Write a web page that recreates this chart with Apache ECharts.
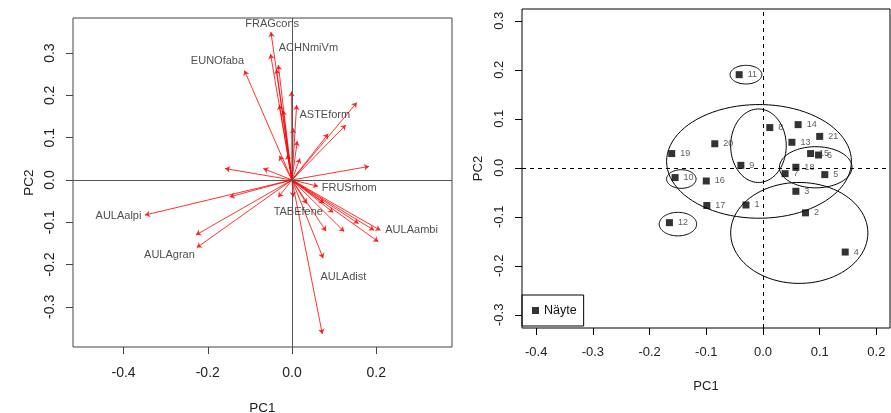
<!DOCTYPE html>
<html>
<head>
<meta charset="utf-8">
<script src="https://cdn.jsdelivr.net/npm/echarts@6/dist/echarts.min.js"></script>
<style>
  html, body { margin: 0; padding: 0; background: #fff; }
  #chart { width: 891px; height: 413px; }
</style>
</head>
<body>
<div id="chart"></div>
<script>
// left panel: loading arrows (PC1, PC2 of each species)
const loadX = [-0.050, -0.051, -0.0325, -0.037, -0.113, -0.001, 0.011, -0.030, -0.021, 0.003, 0.0126, -0.030, -0.011, 0.019,
  0.154, 0.128, 0.086, 0.183, -0.159, -0.068, 0.062, -0.349, -0.148, -0.0325, -0.228, -0.226, 0.035, 0.076, 0.098,
  0.081, 0.124, 0.158, 0.195, 0.210, 0.205, 0.074, 0.072, 0.003]
const loadY = [0.350, 0.298, 0.272, 0.262, 0.259, 0.209, 0.177, 0.178, 0.165, 0.122, 0.092, 0.057, 0.060, 0.051,
  0.183, 0.130, 0.109, 0.032, 0.027, 0.027, -0.015, -0.083, -0.040, -0.041, -0.130, -0.160, -0.056, -0.055, -0.077,
  -0.121, -0.122, -0.103, -0.119, -0.119, -0.146, -0.185, -0.364, -0.040]

// left panel: species labels
const speciesNames = ['FRAGcons', 'ACHNmiVm', 'EUNOfaba', 'ASTEform', 'FRUSrhom', 'TABEfene', 'AULAalpi', 'AULAgran', 'AULAambi', 'AULAdist']
const speciesX = [-0.047, 0.039, -0.177, 0.078, 0.136, 0.015, -0.412, -0.291, 0.284, 0.122]
const speciesY = [0.368, 0.311, 0.281, 0.154, -0.020, -0.076, -0.085, -0.177, -0.118, -0.230]

// right panel: sample scores
const sampleIds = ['1', '2', '3', '4', '5', '6', '7', '8', '9', '10', '11', '12', '13', '14', '15', '16', '17', '18', '19', '20', '21']
const sampleX = [-0.030, 0.075, 0.058, 0.145, 0.109, 0.098, 0.039, 0.012, -0.039, -0.155, -0.042, -0.165, 0.051, 0.062, 0.084, -0.100, -0.099, 0.058, -0.161, -0.085, 0.100]
const sampleY = [-0.076, -0.092, -0.048, -0.172, -0.014, 0.026, -0.012, 0.082, 0.005, -0.020, 0.190, -0.112, 0.052, 0.088, 0.029, -0.027, -0.077, 0.001, 0.029, 0.049, 0.064]

// right panel: group ellipses (centre and radii)
const ellCx = [-0.030, -0.007, -0.008, 0.093, -0.144, -0.150, 0.064]
const ellCy = [0.190, 0.013, 0.045, 0.001, -0.023, -0.115, -0.133]
const ellRx = [0.028, 0.163, 0.049, 0.064, 0.026, 0.033, 0.121]
const ellRy = [0.019, 0.116, 0.075, 0.042, 0.019, 0.024, 0.103]

const ticksLeftX = [-0.4, -0.2, 0.0, 0.2]
const ticksLeftY = [-0.3, -0.2, -0.1, 0.0, 0.1, 0.2, 0.3]
const ticksRightX = [-0.4, -0.3, -0.2, -0.1, 0.0, 0.1, 0.2]
const ticksRightY = [-0.3, -0.2, -0.1, 0.0, 0.1, 0.2, 0.3]

const chart = echarts.init(document.getElementById('chart'))
const font = 'Liberation Sans, Arial, sans-serif'
const fmt = v => Number(v).toFixed(1)

function valueAxis (gridIndex, min, max, ticks, isY, opt) {
  return {
    type: 'value',
    gridIndex: gridIndex,
    min: min,
    max: max,
    name: isY ? 'PC2' : 'PC1',
    nameLocation: 'middle',
    nameGap: opt.nameGap,
    nameRotate: isY ? 90 : 0,
    nameTextStyle: { fontSize: opt.nameSize, color: '#222', fontFamily: font },
    axisLine: { show: false, onZero: false },
    axisTick: { show: true, length: 7, customValues: ticks, lineStyle: { color: opt.tickColor } },
    axisLabel: {
      customValues: ticks,
      formatter: fmt,
      rotate: isY ? 90 : 0,
      margin: opt.margin,
      fontSize: opt.labelSize,
      color: '#222',
      fontFamily: font
    },
    splitLine: { show: false }
  }
}

const leftOpt = { nameGap: 54, nameSize: 13.5, labelSize: 14, margin: 19, tickColor: '#444' }
const leftOptY = { nameGap: 37, nameSize: 13.5, labelSize: 14, margin: 16, tickColor: '#444' }
const rightOpt = { nameGap: 52, nameSize: 13, labelSize: 13, margin: 18, tickColor: '#000' }
const rightOptY = { nameGap: 37, nameSize: 13, labelSize: 13, margin: 16, tickColor: '#000' }

const option = {
  animation: false,
  textStyle: { fontFamily: font },
  grid: [
    { left: 73, top: 18, width: 379, height: 329, outerBoundsMode: 'none', show: true, borderColor: '#444', borderWidth: 1, backgroundColor: 'transparent' },
    { left: 522, top: 9, width: 368, height: 319, outerBoundsMode: 'none', show: true, borderColor: '#000', borderWidth: 1, backgroundColor: 'transparent' }
  ],
  xAxis: [
    valueAxis(0, -0.52, 0.38, ticksLeftX, false, leftOpt),
    valueAxis(1, -0.425, 0.224, ticksRightX, false, rightOpt)
  ],
  yAxis: [
    valueAxis(0, -0.395, 0.383, ticksLeftY, true, leftOptY),
    valueAxis(1, -0.327, 0.324, ticksRightY, true, rightOptY)
  ],
  legend: {
    data: [{ name: 'Näyte', icon: 'rect' }],
    left: 522,
    top: 295,
    orient: 'vertical',
    itemWidth: 7,
    itemHeight: 7,
    padding: [9, 7, 9, 10],
    borderColor: '#000',
    borderWidth: 1,
    selectedMode: false,
    textStyle: { fontSize: 12.5, color: '#111', fontFamily: font }
  },
  series: [
    {
      type: 'lines',
      coordinateSystem: 'cartesian2d',
      xAxisIndex: 0,
      yAxisIndex: 0,
      symbol: ['none', 'arrow'],
      symbolSize: 5,
      lineStyle: { color: 'rgba(255,0,0,0.8)', width: 1, opacity: 1 },
      data: loadX.map((x, i) => ({ coords: [[0, 0], [x, loadY[i]]] })),
      z: 3
    },
    {
      type: 'scatter',
      xAxisIndex: 0,
      yAxisIndex: 0,
      symbolSize: 0,
      data: speciesNames.map((n, i) => ({ name: n, value: [speciesX[i], speciesY[i]] })),
      label: {
        show: true,
        position: 'inside',
        formatter: p => p.name,
        fontSize: 11,
        color: '#222',
        fontFamily: font
      },
      markLine: {
        silent: true,
        symbol: 'none',
        label: { show: false },
        lineStyle: { color: '#555', width: 1, type: 'solid' },
        data: [{ xAxis: 0 }, { yAxis: 0 }]
      },
      z: 4
    },
    {
      name: 'Näyte',
      type: 'scatter',
      xAxisIndex: 1,
      yAxisIndex: 1,
      symbol: 'rect',
      symbolSize: 7,
      itemStyle: { color: '#000' },
      data: sampleIds.map((n, i) => ({ name: n, value: [sampleX[i], sampleY[i]] })),
      label: {
        show: true,
        position: 'right',
        distance: 5,
        formatter: p => p.name,
        fontSize: 9,
        color: '#333',
        fontFamily: font
      },
      markLine: {
        silent: true,
        symbol: 'none',
        label: { show: false },
        lineStyle: { color: '#000', width: 1, type: [4, 4] },
        data: [{ xAxis: 0 }, { yAxis: 0 }]
      },
      z: 4
    },
    {
      type: 'custom',
      xAxisIndex: 1,
      yAxisIndex: 1,
      silent: true,
      data: ellCx.map((cx, i) => [cx, ellCy[i], ellRx[i], ellRy[i]]),
      encode: { x: 0, y: 1 },
      renderItem: function (params, api) {
        const cx = api.value(0)
        const cy = api.value(1)
        const rx = api.value(2)
        const ry = api.value(3)
        const pts = []
        for (let k = 0; k < 90; k++) {
          const t = k / 90 * 2 * Math.PI
          pts.push(api.coord([cx + rx * Math.cos(t), cy + ry * Math.sin(t)]))
        }
        return {
          type: 'polygon',
          shape: { points: pts },
          style: { fill: 'none', stroke: '#000', lineWidth: 1 }
        }
      },
      z: 3
    }
  ]
}

chart.setOption(option)
</script>
</body>
</html>
